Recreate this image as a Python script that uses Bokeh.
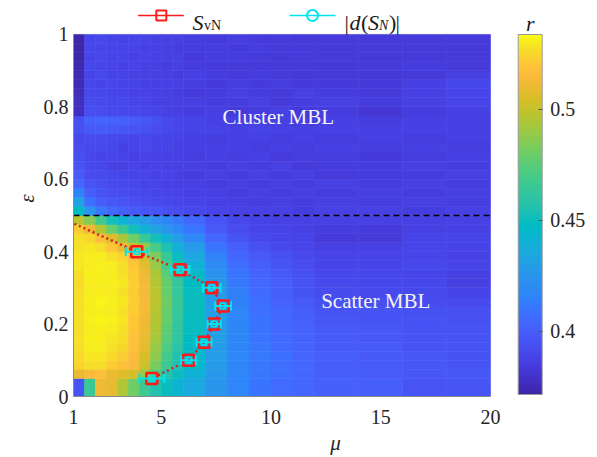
import numpy as np
from bokeh.plotting import figure
from bokeh.models import (ColumnDataSource, LinearColorMapper, ColorBar, FixedTicker,
                          Range1d, Label)
from bokeh.transform import transform
from bokeh.core.properties import value
from bokeh.embed import file_html
from bokeh.resources import INLINE

# ---------------- data ----------------
mu_edges = [1, 1.5, 2, 2.5, 3, 3.5, 4, 4.5, 5, 5.5, 6, 7, 8, 9, 10, 11, 12, 14, 16, 18, 20]
eps_edges = [0.0, 0.05, 0.075, 0.1, 0.125, 0.15, 0.175, 0.2, 0.225, 0.25, 0.275, 0.3, 0.325,
             0.35, 0.375, 0.4, 0.425, 0.45, 0.475, 0.5, 0.525, 0.55, 0.575, 0.6, 0.625, 0.65,
             0.675, 0.7, 0.725, 0.75, 0.775, 0.8, 0.825, 0.85, 0.875, 0.9, 0.925, 0.95, 0.975, 1.0]

# r values, rows listed from top (eps 0.975-1) to bottom (eps 0-0.05)
r_rows = [
    [.371,.389,.390,.388,.387,.389,.388,.387,.386,.386,.385,.384,.385,.384,.384,.383,.384,.383,.384,.384],
    [.372,.390,.389,.389,.388,.388,.387,.387,.386,.385,.385,.385,.384,.385,.384,.384,.383,.384,.384,.383],
    [.372,.389,.390,.388,.389,.387,.388,.386,.386,.386,.384,.385,.385,.384,.383,.384,.384,.383,.383,.384],
    [.373,.390,.389,.389,.387,.388,.386,.387,.385,.386,.385,.384,.384,.383,.384,.384,.383,.384,.385,.384],
    [.374,.389,.391,.388,.388,.387,.387,.386,.386,.385,.386,.385,.384,.385,.384,.383,.384,.383,.384,.386],
    [.375,.390,.389,.390,.388,.388,.386,.387,.386,.386,.385,.384,.385,.384,.385,.384,.384,.384,.386,.390],
    [.376,.391,.390,.389,.389,.387,.388,.386,.387,.385,.384,.385,.386,.385,.384,.386,.385,.384,.387,.389],
    [.377,.392,.391,.390,.390,.388,.388,.387,.386,.386,.386,.385,.385,.386,.384,.385,.386,.385,.386,.388],
    [.377,.393,.392,.391,.390,.390,.389,.388,.387,.386,.385,.386,.384,.385,.386,.384,.385,.382,.385,.387],
    [.393,.401,.403,.402,.400,.399,.397,.394,.391,.389,.388,.387,.386,.387,.386,.385,.386,.385,.386,.386],
    [.394,.398,.399,.398,.397,.396,.394,.392,.390,.389,.388,.388,.387,.388,.387,.386,.387,.386,.387,.387],
    [.391,.392,.392,.391,.390,.389,.390,.389,.388,.388,.386,.385,.386,.386,.385,.386,.385,.386,.385,.386],
    [.392,.391,.391,.390,.387,.389,.390,.388,.388,.387,.386,.386,.387,.385,.386,.385,.386,.385,.386,.385],
    [.393,.390,.389,.389,.388,.387,.388,.387,.386,.387,.385,.386,.385,.386,.384,.385,.385,.384,.385,.386],
    [.395,.391,.390,.386,.387,.389,.387,.388,.387,.386,.386,.385,.386,.385,.386,.384,.385,.385,.386,.385],
    [.398,.392,.391,.390,.389,.388,.389,.387,.388,.386,.385,.386,.385,.386,.385,.386,.384,.385,.385,.386],
    [.404,.395,.393,.391,.390,.390,.388,.389,.387,.387,.386,.385,.386,.385,.386,.385,.386,.385,.386,.385],
    [.415,.400,.396,.393,.392,.391,.390,.389,.389,.388,.386,.386,.385,.386,.385,.386,.385,.386,.385,.386],
    [.432,.408,.400,.397,.395,.393,.392,.391,.390,.389,.388,.387,.386,.385,.386,.385,.386,.385,.386,.385],
    [.448,.425,.412,.405,.401,.399,.397,.395,.393,.392,.390,.388,.387,.386,.386,.385,.386,.386,.385,.386],
    [.498,.485,.468,.452,.442,.434,.428,.422,.417,.412,.405,.396,.390,.388,.387,.386,.387,.386,.387,.386],
    [.522,.511,.496,.479,.465,.452,.440,.432,.425,.418,.410,.398,.392,.389,.388,.387,.385,.384,.387,.387],
    [.527,.525,.517,.507,.494,.480,.465,.452,.440,.430,.418,.404,.396,.391,.389,.388,.384,.384,.388,.388],
    [.528,.529,.527,.520,.510,.499,.489,.470,.455,.440,.428,.410,.400,.394,.391,.389,.386,.386,.389,.388],
    [.529,.530,.530,.528,.524,.515,.503,.484,.465,.450,.435,.415,.404,.398,.394,.391,.388,.388,.389,.387],
    [.529,.530,.531,.530,.527,.520,.508,.490,.470,.455,.440,.419,.407,.400,.396,.392,.389,.389,.390,.388],
    [.527,.531,.531,.530,.528,.522,.512,.495,.476,.460,.446,.424,.410,.403,.398,.394,.390,.390,.389,.386],
    [.526,.530,.531,.531,.529,.523,.513,.497,.478,.463,.448,.427,.412,.405,.400,.395,.391,.390,.390,.386],
    [.527,.530,.531,.530,.528,.522,.513,.498,.479,.464,.449,.428,.414,.406,.401,.396,.392,.391,.391,.389],
    [.528,.531,.532,.531,.529,.523,.514,.498,.480,.465,.450,.429,.415,.407,.402,.398,.394,.393,.392,.391],
    [.527,.530,.531,.530,.528,.522,.513,.497,.479,.464,.450,.430,.416,.408,.404,.400,.396,.395,.394,.393],
    [.528,.531,.532,.531,.529,.521,.512,.496,.478,.463,.449,.430,.416,.409,.405,.401,.397,.396,.395,.394],
    [.527,.530,.531,.530,.528,.520,.511,.495,.477,.462,.449,.430,.417,.410,.405,.402,.398,.397,.395,.395],
    [.528,.531,.531,.529,.527,.519,.510,.493,.475,.461,.448,.430,.417,.410,.406,.402,.399,.397,.396,.396],
    [.527,.530,.530,.528,.525,.518,.508,.490,.472,.459,.447,.429,.417,.411,.406,.403,.399,.398,.396,.396],
    [.526,.529,.529,.526,.522,.516,.505,.487,.469,.457,.446,.429,.417,.411,.407,.403,.400,.398,.397,.396],
    [.524,.527,.527,.522,.519,.515,.502,.483,.466,.455,.445,.428,.417,.411,.407,.404,.400,.399,.397,.396],
    [.510,.515,.517,.510,.507,.504,.490,.470,.457,.450,.441,.426,.416,.411,.407,.404,.400,.399,.397,.397],
    [.396,.465,.512,.509,.495,.480,.466,.456,.450,.443,.436,.425,.416,.410,.406,.404,.401,.400,.395,.396],
]

# S_vN transition points (mu, eps); first point lies left of the axis range
svn_mu = [0.0, 3.88, 5.86, 7.30, 7.82, 7.41, 6.95, 6.24, 4.57]
svn_eps = [0.505, 0.40, 0.35, 0.30, 0.25, 0.20, 0.15, 0.10, 0.05]
# |d(S_N)| transition points with horizontal error
dsn_mu = [3.88, 5.86, 7.30, 7.82, 7.41, 6.95, 6.24, 4.57]
dsn_eps = [0.40, 0.35, 0.30, 0.25, 0.20, 0.15, 0.10, 0.05]
dsn_err = [0.50, 0.42, 0.40, 0.36, 0.30, 0.34, 0.34, 0.57]

mu_lim = (1, 20)
eps_lim = (0, 1)
eps_sep = 0.5
r_low, r_high = 0.3714, 0.5338
x_ticks = [1, 5, 10, 15, 20]
y_ticks = [0, 0.2, 0.4, 0.6, 0.8, 1]
cb_ticks = [0.4, 0.45, 0.5]

# ---------------- parula (R2017a) palette ----------------
_anch = [(0, (0.2422, 0.1504, 0.6603)), (10, (0.2611, 0.1893, 0.7719)), (20, (0.2749, 0.2330, 0.8692)),
         (30, (0.2809, 0.2875, 0.9305)), (40, (0.2798, 0.3421, 0.9702)), (50, (0.2670, 0.3973, 0.9924)),
         (60, (0.2250, 0.4559, 0.9985)), (70, (0.1795, 0.5244, 0.9709)), (80, (0.1716, 0.5655, 0.9393)),
         (90, (0.1446, 0.6135, 0.9050)), (100, (0.1119, 0.6627, 0.8770)), (110, (0.0535, 0.7006, 0.8299)),
         (120, (0.0094, 0.7327, 0.7623)), (130, (0.1141, 0.7531, 0.7019)), (140, (0.1853, 0.7721, 0.6379)),
         (150, (0.2401, 0.7905, 0.5636)), (160, (0.3176, 0.7994, 0.4975)), (170, (0.4184, 0.8030, 0.4122)),
         (180, (0.5329, 0.7970, 0.3267)), (190, (0.6433, 0.7839, 0.2423)), (200, (0.7468, 0.7654, 0.1782)),
         (210, (0.8495, 0.7435, 0.1564)), (220, (0.9357, 0.7290, 0.2061)), (228, (0.9900, 0.7365, 0.2429)),
         (235, (0.9962, 0.7798, 0.2095)), (245, (0.9651, 0.8716, 0.1608)), (255, (0.9769, 0.9839, 0.0805))]
_ai = np.array([a[0] for a in _anch], float)
_ac = np.array([a[1] for a in _anch], float)
parula = []
for t_ in range(256):
    rgb = [np.interp(t_, _ai, _ac[:, k]) for k in range(3)]
    parula.append("#%02x%02x%02x" % tuple(int(round(c * 255)) for c in rgb))

mapper = LinearColorMapper(palette=parula, low=r_low, high=r_high)

# ---------------- heatmap source ----------------
L, R, B, T, V = [], [], [], [], []
for i, row in enumerate(reversed(r_rows)):
    for j, v in enumerate(row):
        L.append(mu_edges[j]); R.append(mu_edges[j + 1])
        B.append(eps_edges[i]); T.append(eps_edges[i + 1])
        V.append(v)
hm = ColumnDataSource(dict(left=L, right=R, bottom=B, top=T, r=V))

FONT = "Liberation Serif"
CYAN = "#00e6f0"
RED = "#ff1a1a"

# ---- page geometry (pixels): the plot frame spans the canvas above/right of the axes;
# the data area (mu 1..20, eps 0..1) sits inside it, legend and colour bar in the free space.
W, H = 597, 457
AX_L, AX_R, AX_T, AX_B = 73, 490, 34, 397   # data area in pixels
kx = (mu_lim[1] - mu_lim[0]) / (AX_R - AX_L)
ky = (eps_lim[1] - eps_lim[0]) / (AX_B - AX_T)
x_range = Range1d(mu_lim[0], mu_lim[1] + (W - AX_R) * kx)
y_range = Range1d(eps_lim[0], eps_lim[1] + AX_T * ky)

def px_mu(x):
    return mu_lim[0] + (x - AX_L) * kx

def px_eps(y):
    return eps_lim[0] + (AX_B - y) * ky

p = figure(width=W, height=H, x_range=x_range, y_range=y_range,
           toolbar_location=None, output_backend="svg",
           min_border_left=AX_L, min_border_right=0, min_border_top=0, min_border_bottom=H - AX_B)
p.grid.visible = False
p.outline_line_color = None

p.quad(left="left", right="right", bottom="bottom", top="top", source=hm,
       fill_color=transform("r", mapper), line_color=transform("r", mapper), line_width=0.6)

p.line(list(mu_lim), [eps_sep, eps_sep], line_color="black", line_dash="6 4", line_width=1.5)

p.line(svn_mu, svn_eps, line_color="#d42020", line_width=2.5, line_dash="2 3")
p.scatter(svn_mu[1:], svn_eps[1:], marker="square", size=11, fill_color=None, line_color=RED, line_width=2.5)

lo = [m - e for m, e in zip(dsn_mu, dsn_err)]
hi = [m + e for m, e in zip(dsn_mu, dsn_err)]
p.segment(lo, dsn_eps, hi, dsn_eps, line_color=CYAN, line_width=2)
cap = 0.013
p.segment(lo, [e - cap for e in dsn_eps], lo, [e + cap for e in dsn_eps], line_color=CYAN, line_width=2)
p.segment(hi, [e - cap for e in dsn_eps], hi, [e + cap for e in dsn_eps], line_color=CYAN, line_width=2)
p.scatter(dsn_mu, dsn_eps, marker="circle", size=6, fill_color=None, line_color=CYAN, line_width=1.5)

p.add_layout(Label(x=10.33, y=0.773, text="Cluster MBL", text_align="center", text_baseline="middle",
                   text_font=FONT, text_font_size="21px", text_color="#f4f4f4"))
p.add_layout(Label(x=14.77, y=0.264, text="Scatter MBL", text_align="center", text_baseline="middle",
                   text_font=FONT, text_font_size="21px", text_color="#f4f4f4"))

# ---------------- legend (above the data area) ----------------
LY = 15
p.line([px_mu(137.6), px_mu(183.3)], [px_eps(LY)] * 2, line_color=RED, line_width=1.5)
p.scatter([px_mu(160.8)], [px_eps(LY)], marker="square", size=10, fill_color=None,
          line_color=RED, line_width=2)
p.line([px_mu(289), px_mu(335)], [px_eps(LY)] * 2, line_color=CYAN, line_width=1.5)
p.scatter([px_mu(312)], [px_eps(LY)], marker="circle", size=11, fill_color=None,
          line_color=CYAN, line_width=2)

def txt(x, y, s, size="22px", style="normal", align="left"):
    p.text(x=[px_mu(x)], y=[px_eps(y)], text=[s], text_font=value(FONT), text_font_size=size,
           text_font_style=style, text_baseline="alphabetic", text_align=align, text_color="#1a1a1a")

txt(192, 22, "S", style="italic")
txt(203.5, 25.5, "vN", size="14px")
txt(344, 22, "|")
txt(349, 22, "d", style="italic")
txt(360.5, 22, "(")
txt(367.5, 22, "S", style="italic")
txt(378.5, 25.5, "N", size="14px", style="italic")
txt(388.5, 22, ")")
txt(395, 22, "|")
txt(529.7, 23, "r", style="italic", align="center")

# ---------------- axes ----------------
for ax in (p.xaxis[0], p.yaxis[0]):
    ax.major_label_text_font = FONT
    ax.major_label_text_font_size = "20px"
    ax.major_label_text_color = "#262626"
    ax.axis_label_text_font = FONT
    ax.axis_label_text_font_size = "21px"
    ax.axis_label_text_font_style = "italic"
    ax.axis_label_text_color = "#262626"
    ax.axis_line_color = "#8c8c8c"
    ax.major_tick_in = 0
    ax.major_tick_out = 0
    ax.minor_tick_in = 0
    ax.minor_tick_out = 0

p.xaxis.bounds = mu_lim
p.yaxis.bounds = eps_lim
p.xaxis.ticker = FixedTicker(ticks=x_ticks)
p.yaxis.ticker = FixedTicker(ticks=y_ticks)
p.yaxis.major_label_overrides = {0: "0", 0.2: "0.2", 0.4: "0.4", 0.6: "0.6", 0.8: "0.8", 1: "1"}
p.xaxis.axis_label = "μ"
p.yaxis.axis_label = "ε"
p.xaxis.major_label_standoff = 13
p.xaxis.axis_label_standoff = 4
p.yaxis.major_label_standoff = 5
p.yaxis.axis_label_standoff = 2

# colour bar inside the (extended) frame, to the right of the data area
cb = ColorBar(color_mapper=mapper, ticker=FixedTicker(ticks=cb_ticks), width=24, height=360,
              location=(517.7 - AX_L, AX_B - 395), margin=0, padding=0,
              major_label_text_font=FONT, major_label_text_font_size="20px",
              major_label_text_color="#262626", label_standoff=8,
              major_tick_in=4, major_tick_out=0, major_tick_line_color="#555555",
              minor_tick_line_color=None, bar_line_color="#9a9a9a",
              background_fill_alpha=0, border_line_color=None)
cb.major_label_overrides = {0.4: "0.4", 0.45: "0.45", 0.5: "0.5"}
p.add_layout(cb)

open("out.html", "w").write(file_html(p, INLINE))
